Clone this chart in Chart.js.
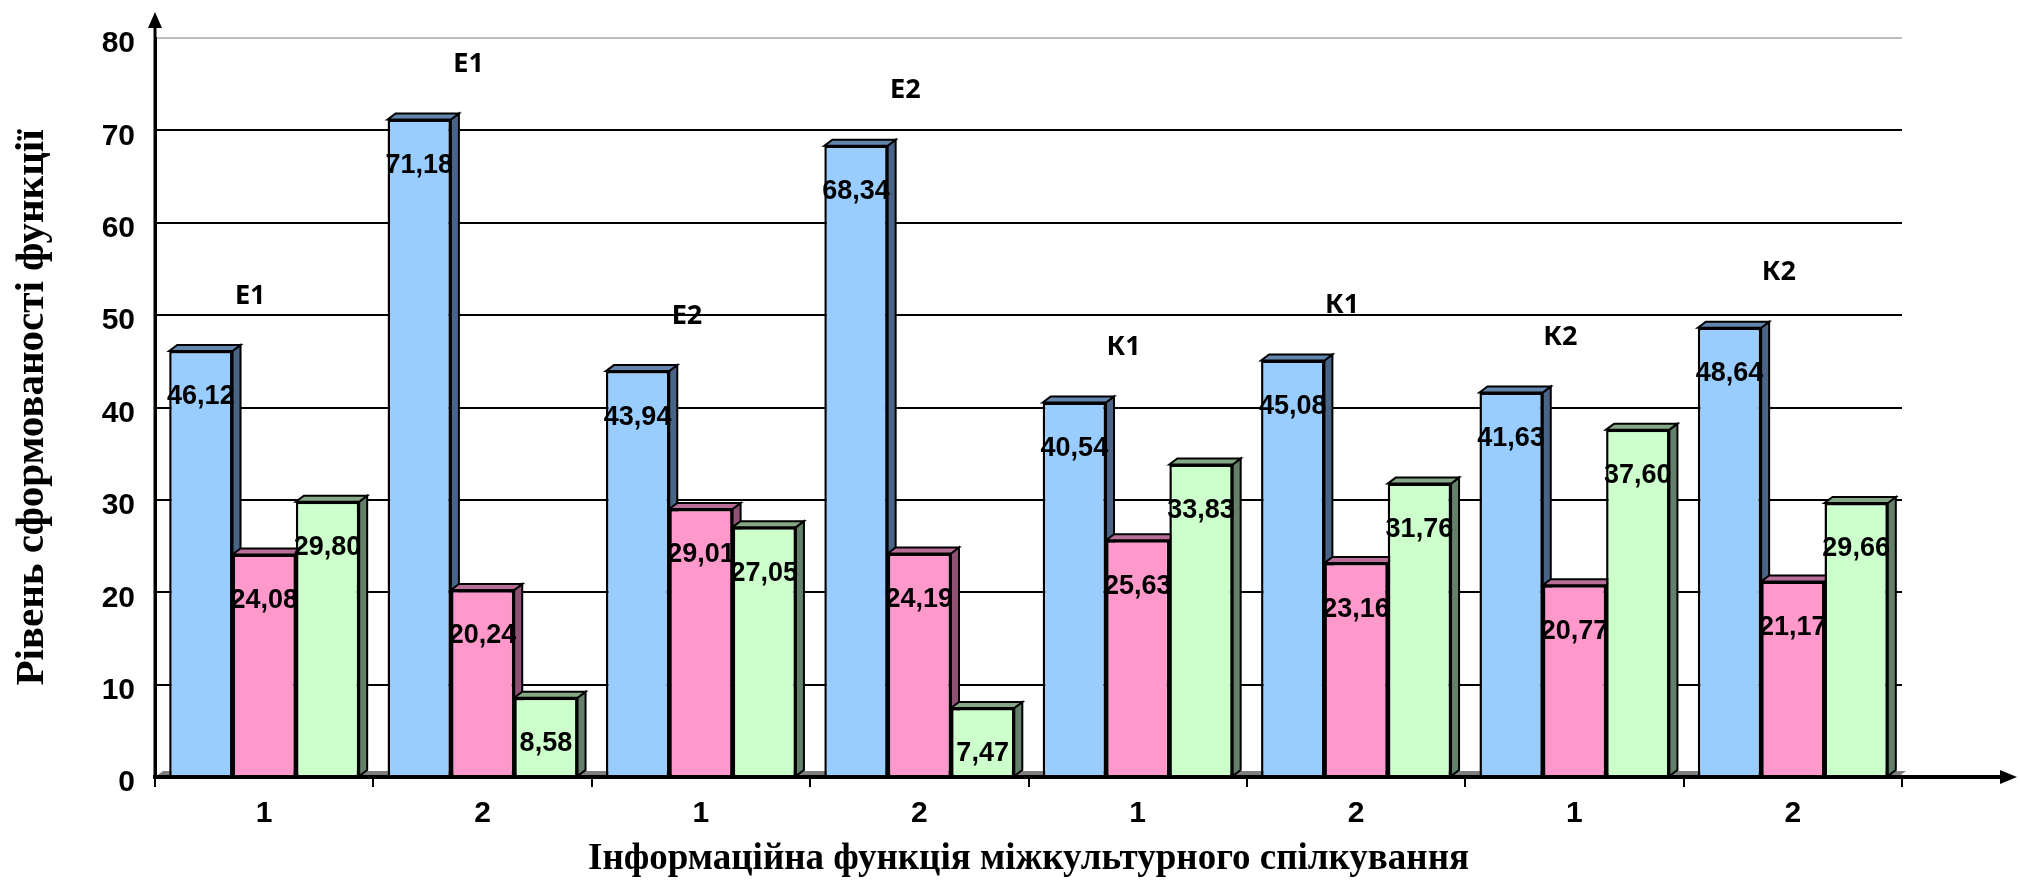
<!DOCTYPE html>
<html>
<head>
<meta charset="utf-8">
<script src="https://cdn.jsdelivr.net/npm/chart.js@4.4.1/dist/chart.umd.min.js"></script>
<style>
    html, body { margin: 0; padding: 0; background: #fff; }
    #wrap { width: 2020px; height: 886px; }
</style>
</head>
<body>
<div id="wrap"><canvas id="grafico" width="2020" height="886"></canvas></div>
<script>
// dados
const categorias = ['1', '2', '1', '2', '1', '2', '1', '2'];
const grupos = ['Е1', 'Е1', 'Е2', 'Е2', 'К1', 'К1', 'К2', 'К2'];
const serieAzul = [46.12, 71.18, 43.94, 68.34, 40.54, 45.08, 41.63, 48.64];
const serieRosa = [24.08, 20.24, 29.01, 24.19, 25.63, 23.16, 20.77, 21.17];
const serieVerde = [29.80, 8.58, 27.05, 7.47, 33.83, 31.76, 37.60, 29.66];
const yMin = 0;
const yMax = 80;
const yPasso = 10;

const PROF_X = 8;   // profundidade 3D
const PROF_Y = 6;
const coresFrente = ['#99ccff', '#ff99cc', '#ccffcc'];
const coresLado = ['#4a6487', '#8f5275', '#64806a'];
const coresTopo = ['#6486ae', '#b86e98', '#86a886'];

function barras(chart, i) {
    return chart.getDatasetMeta(i).data.map(el => el.getProps(['x', 'y', 'width', 'base'], true));
}

const efeito3d = {
    id: 'efeito3d',
    beforeDatasetsDraw(chart) {
        const ctx = chart.ctx;
        const area = chart.chartArea;
        const base = chart.scales.y.getPixelForValue(0);
        ctx.save();
        // chão cinza
        ctx.fillStyle = '#7f7f7f';
        ctx.beginPath();
        ctx.moveTo(area.left, base);
        ctx.lineTo(area.left + PROF_X, base - PROF_Y);
        ctx.lineTo(area.right + 4, base - PROF_Y);
        ctx.lineTo(area.right - 4, base);
        ctx.closePath();
        ctx.fill();

        const metas = [0, 1, 2].map(i => barras(chart, i));
        ctx.lineWidth = 2;
        ctx.strokeStyle = '#000';
        for (let c = 0; c < categorias.length; c++) {
            for (let d = 0; d < 3; d++) {
                const b = metas[d][c];
                const l = b.x - b.width / 2, r = b.x + b.width / 2;
                // lado
                ctx.fillStyle = coresLado[d];
                ctx.beginPath();
                ctx.moveTo(r, b.y);
                ctx.lineTo(r + PROF_X, b.y - PROF_Y);
                ctx.lineTo(r + PROF_X, b.base - PROF_Y);
                ctx.lineTo(r, b.base);
                ctx.closePath();
                ctx.fill();
                ctx.stroke();
                // topo
                ctx.fillStyle = coresTopo[d];
                ctx.beginPath();
                ctx.moveTo(l, b.y);
                ctx.lineTo(l + PROF_X, b.y - PROF_Y);
                ctx.lineTo(r + PROF_X, b.y - PROF_Y);
                ctx.lineTo(r, b.y);
                ctx.closePath();
                ctx.fill();
                ctx.stroke();
            }
        }
        ctx.restore();
    },
    afterDatasetsDraw(chart) {
        const ctx = chart.ctx;
        ctx.save();
        ctx.fillStyle = '#000';
        ctx.textAlign = 'center';
        ctx.textBaseline = 'middle';
        // valores dentro das barras
        ctx.font = 'bold 27px "Liberation Sans"';
        chart.data.datasets.forEach((ds, i) => {
            barras(chart, i).forEach((b, j) => {
                ctx.fillText(ds.data[j].toFixed(2).replace('.', ','), b.x, b.y + 46);
            });
        });
        // rótulos dos grupos
        ctx.font = 'bold 27px "Noto Sans"';
        const azul = barras(chart, 0);
        const rosa = barras(chart, 1);
        grupos.forEach((g, j) => {
            ctx.fillText(g, rosa[j].x - 14, azul[j].y - 55);
        });
        ctx.restore();
    },
    afterDraw(chart) {
        const ctx = chart.ctx;
        const area = chart.chartArea;
        const base = chart.scales.y.getPixelForValue(0);
        ctx.save();
        ctx.strokeStyle = '#000';
        ctx.fillStyle = '#000';
        // eixo x com seta
        ctx.lineWidth = 4;
        ctx.beginPath();
        ctx.moveTo(area.left, base);
        ctx.lineTo(2005, base);
        ctx.stroke();
        ctx.beginPath();
        ctx.moveTo(2017, base);
        ctx.lineTo(2000, base - 7);
        ctx.lineTo(2000, base + 7);
        ctx.closePath();
        ctx.fill();
        // eixo y com seta
        ctx.lineWidth = 3;
        ctx.beginPath();
        ctx.moveTo(area.left, base);
        ctx.lineTo(area.left, 22);
        ctx.stroke();
        ctx.beginPath();
        ctx.moveTo(area.left, 12);
        ctx.lineTo(area.left - 7, 28);
        ctx.lineTo(area.left + 7, 28);
        ctx.closePath();
        ctx.fill();
        ctx.restore();
    }
};

const fonteEixo = { family: '"Liberation Sans"', weight: 'bold', size: 30 };

new Chart(document.getElementById('grafico'), {
    type: 'bar',
    data: {
        labels: categorias,
        datasets: [
            { data: serieAzul, backgroundColor: coresFrente[0] },
            { data: serieRosa, backgroundColor: coresFrente[1] },
            { data: serieVerde, backgroundColor: coresFrente[2] }
        ].map(ds => Object.assign(ds, {
            borderColor: '#000',
            borderWidth: 2.5,
            categoryPercentage: 0.87,
            barPercentage: 1.0
        }))
    },
    options: {
        responsive: false,
        devicePixelRatio: 1,
        animation: false,
        layout: { padding: { top: 35, right: 118, bottom: 0, left: 0 } },
        plugins: {
            legend: { display: false },
            tooltip: { enabled: false }
        },
        scales: {
            x: {
                grid: {
                    display: true,
                    drawOnChartArea: false,
                    drawTicks: true,
                    tickLength: 10,
                    color: '#000',
                    lineWidth: 2,
                    offset: true
                },
                border: { display: true, color: '#000', width: 4 },
                ticks: { color: '#000', font: fonteEixo, padding: 9, maxRotation: 0 },
                title: {
                    display: true,
                    text: 'Інформаційна функція міжкультурного спілкування',
                    color: '#000',
                    font: { family: '"Liberation Serif"', weight: 'bold', size: 37 },
                    padding: { top: 0, bottom: 4 }
                },
                afterFit: function (scale) { scale.height = 109; }
            },
            y: {
                min: yMin,
                max: yMax,
                ticks: { stepSize: yPasso, color: '#000', font: fonteEixo, padding: 20, labelOffset: 6 },
                grid: {
                    color: ctx => ctx.tick && ctx.tick.value === yMax ? '#bdbdbd' : '#000',
                    lineWidth: 2,
                    drawTicks: false
                },
                border: { display: true, color: '#000', width: 3 },
                title: {
                    display: true,
                    text: 'Рівень сформованості функції',
                    color: '#000',
                    font: { family: '"Liberation Serif"', weight: 'bold', size: 41 },
                    padding: { top: 8, bottom: 0 }
                },
                afterFit: function (scale) { scale.width = 155; }
            }
        }
    },
    plugins: [efeito3d]
});
</script>
</body>
</html>
